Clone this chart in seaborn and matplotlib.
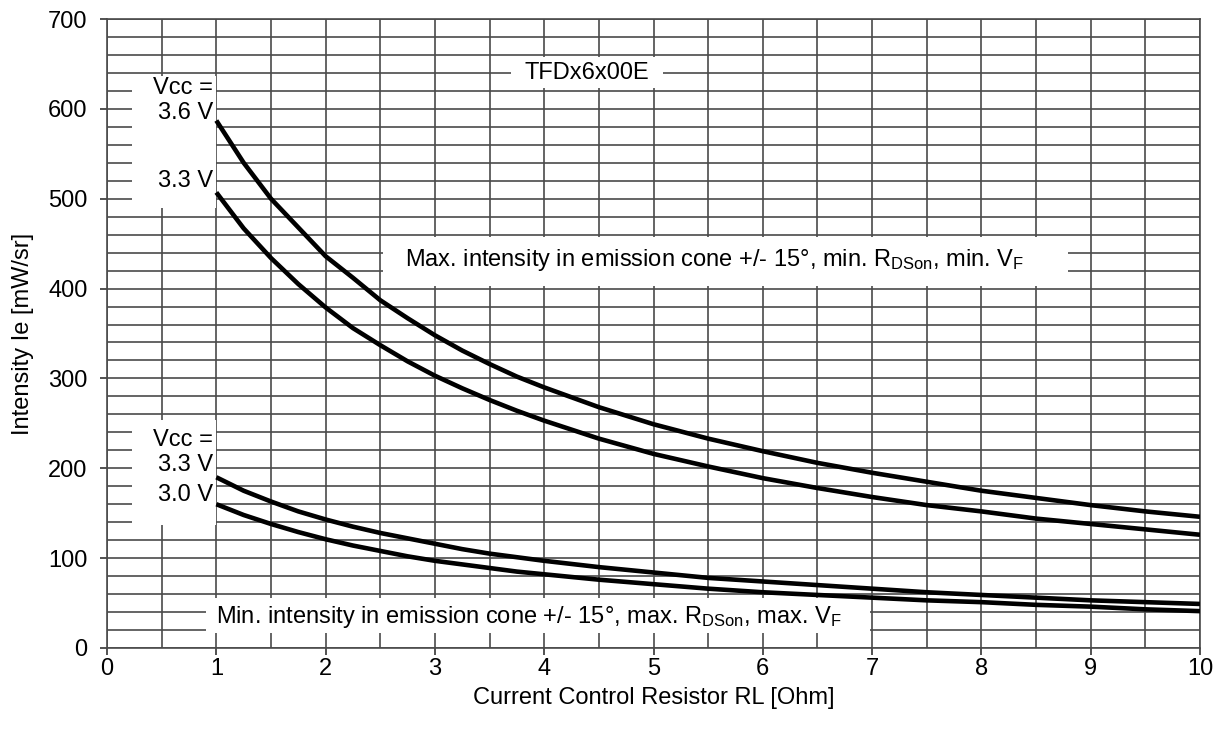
import numpy as np
import pandas as pd
import matplotlib
matplotlib.use("Agg")
import matplotlib.pyplot as plt
from matplotlib.patches import Rectangle
from matplotlib.ticker import MultipleLocator
import seaborn as sns

# Current control resistor values [Ohm]
resistor = [1.0, 1.25, 1.5, 1.75, 2.0, 2.25, 2.5, 2.75, 3.0, 3.25, 3.5, 3.75,
            4.0, 4.5, 5.0, 5.5, 6.0, 6.5, 7.0, 7.5, 8.0, 8.5, 9.0, 9.5, 10.0]

# Max. intensity, min. RDSon, min. VF [mW/sr]
max_36v = [587, 540, 500, 468, 436, 412, 387, 367, 348, 331, 316, 302,
           290, 268, 249, 233, 219, 206, 195, 185, 175, 167, 159, 152, 146]
max_33v = [507, 467, 434, 405, 379, 356, 337, 319, 303, 289, 276, 264,
           253, 233, 216, 202, 189, 178, 168, 159, 152, 144, 138, 132, 126]

# Min. intensity, max. RDSon, max. VF [mW/sr]
min_33v = [190, 175, 163, 152, 143, 135, 128, 122, 116, 110, 105, 101,
           97, 90, 84, 78, 74, 70, 66, 62, 59, 56, 53, 51, 49]
min_30v = [160, 148, 138, 129, 121, 114, 108, 102, 97, 93, 89, 85,
           82, 76, 71, 66, 62, 59, 56, 53, 51, 48, 46, 43, 41]

x_ticks = list(range(0, 11))
y_ticks = list(range(0, 701, 100))

n = len(resistor)
df = pd.DataFrame({
    "RL": resistor * 4,
    "Ie": max_36v + max_33v + min_33v + min_30v,
    "curve": (["max 3.6 V"] * n + ["max 3.3 V"] * n
              + ["min 3.3 V"] * n + ["min 3.0 V"] * n),
})

sns.set_style("white")
plt.rcParams["font.family"] = ["Liberation Sans", "DejaVu Sans"]
plt.rcParams["mathtext.fontset"] = "custom"
plt.rcParams["mathtext.rm"] = "Liberation Sans"
plt.rcParams["mathtext.it"] = "Liberation Sans:italic"
plt.rcParams["text.color"] = "black"
plt.rcParams["axes.labelcolor"] = "black"
plt.rcParams["xtick.color"] = "black"
plt.rcParams["ytick.color"] = "black"

fig = plt.figure(figsize=(12.26, 7.37), dpi=100)
ax = fig.add_axes([0.0873, 0.1208, 0.8915, 0.8534])

sns.lineplot(data=df, x="RL", y="Ie", units="curve", estimator=None,
             color="black", linewidth=3.3, ax=ax, zorder=4, legend=False,
             solid_joinstyle="round", solid_capstyle="butt")

ax.set_xlim(0, 10)
ax.set_ylim(0, 700)
ax.set_xticks(x_ticks)
ax.set_yticks(y_ticks)
ax.xaxis.set_minor_locator(MultipleLocator(0.5))
ax.yaxis.set_minor_locator(MultipleLocator(20))
ax.set_axisbelow(True)
ax.grid(which="both", color="#4a4a4a", linewidth=1.2)
ax.tick_params(which="major", direction="out", length=5, width=1.2,
               color="#333333", labelcolor="black", labelsize=17,
               bottom=True, left=True)
ax.tick_params(axis="x", which="major", pad=2)
ax.tick_params(axis="y", which="major", pad=9)
ax.tick_params(which="minor", length=0)
for side in ["left", "bottom", "top", "right"]:
    ax.spines[side].set_color("#4a4a4a")
    ax.spines[side].set_linewidth(1.2)

ax.set_xlabel("Current Control Resistor RL [Ohm]", fontsize=17, labelpad=5,
              color="black")
ax.set_ylabel("Intensity Ie [mW/sr]", fontsize=17, labelpad=10, color="black")

# White label boxes over the grid
boxes = [
    (3.70, 623, 1.39, 35),     # title box
    (0.23, 490, 0.77, 147),    # upper Vcc labels
    (0.23, 137, 0.77, 117),    # lower Vcc labels
    (2.525, 403, 6.265, 54),   # max. intensity note
    (0.905, 17, 6.075, 39),    # min. intensity note
]
for bx, by, bw, bh in boxes:
    ax.add_patch(Rectangle((bx, by), bw, bh, facecolor="white",
                           edgecolor="none", zorder=2))

fs = 17
ax.text(4.39, 640, "TFDx6x00E", fontsize=fs, ha="center", va="center", zorder=3)

ax.text(0.97, 623, "Vcc =", fontsize=fs, ha="right", va="center", zorder=3)
ax.text(0.97, 595, "3.6 V", fontsize=fs, ha="right", va="center", zorder=3)
ax.text(0.97, 520, "3.3 V", fontsize=fs, ha="right", va="center", zorder=3)

ax.text(0.97, 231, "Vcc =", fontsize=fs, ha="right", va="center", zorder=3)
ax.text(0.97, 204, "3.3 V", fontsize=fs, ha="right", va="center", zorder=3)
ax.text(0.97, 170, "3.0 V", fontsize=fs, ha="right", va="center", zorder=3)

ax.text(2.73, 432,
        r"Max. intensity in emission cone +/- 15°, min. R$_{\mathrm{DSon}}$, min. V$_{\mathrm{F}}$",
        fontsize=fs, ha="left", va="center", zorder=3)
ax.text(0.995, 34,
        r"Min. intensity in emission cone +/- 15°, max. R$_{\mathrm{DSon}}$, max. V$_{\mathrm{F}}$",
        fontsize=fs, ha="left", va="center", zorder=3)

fig.savefig("out.png", dpi=100)
